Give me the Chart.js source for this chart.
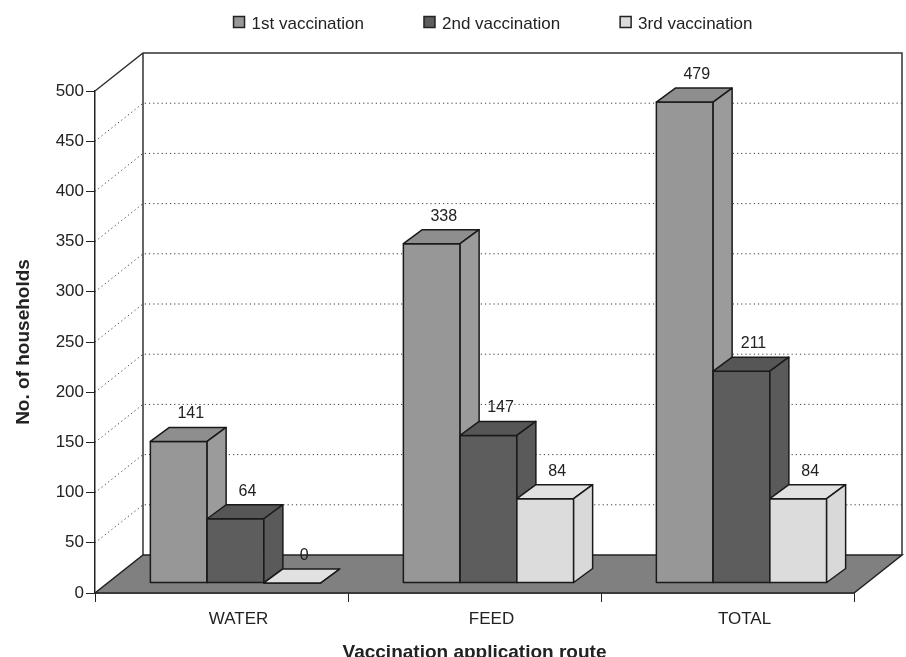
<!DOCTYPE html>
<html>
<head>
<meta charset="utf-8">
<script src="https://cdn.jsdelivr.net/npm/chart.js@4.4.0/dist/chart.umd.min.js"></script>
<style>
  html, body { margin: 0; padding: 0; background: #fff; }
  #wrap { width: 906px; height: 657px; }
</style>
</head>
<body>
<div id="wrap"><canvas id="chart"></canvas></div>
<script>
// data
const routes = ['WATER', 'FEED', 'TOTAL'];
const seriesNames = ['1st vaccination', '2nd vaccination', '3rd vaccination'];
const firstVacc = [141, 338, 479];
const secondVacc = [64, 147, 211];
const thirdVacc = [0, 84, 84];
const yMax = 500;
const yStep = 50;

const FONT = '"Liberation Sans", Arial, sans-serif';
Chart.defaults.font.family = FONT;

// shades for front / top / side faces of each series
const faces = [
    { front: '#979797', top: '#8e8e8e', side: '#9b9b9b' },
    { front: '#5d5d5d', top: '#565656', side: '#5a5a5a' },
    { front: '#dcdcdc', top: '#e1e1e1', side: '#d9d9d9' }
];

// oblique depth offsets (px)
const wallDX = 48, wallDY = -38;   // back wall
const barSX = 14, barSY = -10;     // bars sit a bit behind the front plane
const barDX = 19, barDY = -14;     // bar depth

const fake3d = {
    id: 'fake3d',
    beforeDatasetsDraw(chart) {
        const { ctx, chartArea: a, scales: { y } } = chart;
        ctx.save();
        // dotted grid on left and back walls
        ctx.strokeStyle = '#3a3a3a';
        ctx.lineWidth = 1;
        ctx.setLineDash([1.2, 3]);
        y.ticks.forEach(t => {
            if (t.value === y.min || t.value === y.max) return;
            const py = y.getPixelForValue(t.value);
            ctx.beginPath();
            ctx.moveTo(a.left, py);
            ctx.lineTo(a.left + wallDX, py + wallDY);
            ctx.lineTo(a.right + wallDX, py + wallDY);
            ctx.stroke();
        });
        ctx.setLineDash([]);
        // wall outline
        ctx.strokeStyle = '#333';
        ctx.lineWidth = 1.5;
        ctx.beginPath();
        ctx.moveTo(a.left, a.top);
        ctx.lineTo(a.left + wallDX, a.top + wallDY);
        ctx.lineTo(a.right + wallDX, a.top + wallDY);
        ctx.lineTo(a.right + wallDX, a.bottom + wallDY);
        ctx.moveTo(a.left + wallDX, a.top + wallDY);
        ctx.lineTo(a.left + wallDX, a.bottom + wallDY);
        ctx.stroke();
        // floor
        ctx.fillStyle = '#808080';
        ctx.strokeStyle = '#222';
        ctx.beginPath();
        ctx.moveTo(a.left, a.bottom);
        ctx.lineTo(a.right, a.bottom);
        ctx.lineTo(a.right + wallDX, a.bottom + wallDY);
        ctx.lineTo(a.left + wallDX, a.bottom + wallDY);
        ctx.closePath();
        ctx.fill();
        ctx.stroke();
        ctx.restore();
    },
    beforeDatasetDraw() {
        return false; // boxes are drawn below instead
    },
    afterDatasetsDraw(chart) {
        const { ctx } = chart;
        const metas = chart.data.datasets.map((d, i) => chart.getDatasetMeta(i));
        ctx.save();
        ctx.lineWidth = 1.5;
        ctx.lineJoin = 'round';
        ctx.strokeStyle = '#1a1a1a';
        const poly = (pts, fill) => {
            ctx.beginPath();
            ctx.moveTo(pts[0][0], pts[0][1]);
            for (let k = 1; k < pts.length; k++) ctx.lineTo(pts[k][0], pts[k][1]);
            ctx.closePath();
            ctx.fillStyle = fill;
            ctx.fill();
            ctx.stroke();
        };
        const labels = [];
        routes.forEach((r, ci) => {
            metas.forEach((meta, di) => {
                const bar = meta.data[ci];
                const c = faces[di];
                const x0 = bar.x - bar.width / 2 + barSX;
                const x1 = bar.x + bar.width / 2 + barSX;
                const yt = bar.y + barSY;
                const yb = bar.base + barSY;
                poly([[x0, yt], [x1, yt], [x1, yb], [x0, yb]], c.front);
                poly([[x0, yt], [x1, yt], [x1 + barDX, yt + barDY], [x0 + barDX, yt + barDY]], c.top);
                poly([[x1, yt], [x1 + barDX, yt + barDY], [x1 + barDX, yb + barDY], [x1, yb]], c.side);
                labels.push({ x: (x0 + x1) / 2 + 12, y: yt + barDY - 9, v: chart.data.datasets[di].data[ci] });
            });
        });
        ctx.fillStyle = '#222';
        ctx.font = '16px ' + FONT;
        ctx.textAlign = 'center';
        ctx.textBaseline = 'alphabetic';
        labels.forEach(l => ctx.fillText(String(l.v), l.x, l.y));
        ctx.restore();
    },
    afterDraw(chart) {
        // legend row at the top
        const { ctx } = chart;
        ctx.save();
        ctx.font = '17px ' + FONT;
        const widths = seriesNames.map(s => ctx.measureText(s).width);
        const box = 11, gapText = 18, gapItem = 60;
        const total = widths.reduce((s, w) => s + w, 0) + seriesNames.length * gapText + (seriesNames.length - 1) * gapItem;
        let x = 493 - total / 2;
        const cy = 23;
        ctx.textBaseline = 'middle';
        ctx.textAlign = 'left';
        seriesNames.forEach((s, i) => {
            ctx.fillStyle = faces[i].front;
            ctx.strokeStyle = '#222';
            ctx.lineWidth = 1.5;
            ctx.fillRect(x, cy - box / 2 - 1, box, box);
            ctx.strokeRect(x, cy - box / 2 - 1, box, box);
            ctx.fillStyle = '#222';
            ctx.fillText(s, x + gapText, cy + 1.5);
            x += gapText + widths[i] + gapItem;
        });
        ctx.restore();
    }
};

new Chart(document.getElementById('chart'), {
    type: 'bar',
    data: {
        labels: routes,
        datasets: [
            { label: seriesNames[0], data: firstVacc, backgroundColor: faces[0].front },
            { label: seriesNames[1], data: secondVacc, backgroundColor: faces[1].front },
            { label: seriesNames[2], data: thirdVacc, backgroundColor: faces[2].front }
        ]
    },
    options: {
        responsive: true,
        maintainAspectRatio: false,
        animation: false,
        layout: {
            padding: { top: 91, right: 52, bottom: 0, left: 0 }
        },
        datasets: {
            bar: { barPercentage: 1, categoryPercentage: 0.673 }
        },
        plugins: {
            legend: { display: false },
            tooltip: { enabled: false }
        },
        scales: {
            x: {
                grid: { drawOnChartArea: false, tickLength: 9, color: '#222', offset: true },
                border: { display: true, color: '#222', width: 1.5 },
                ticks: { font: { size: 17 }, color: '#222', labelOffset: 17, padding: 7 },
                title: {
                    display: true,
                    text: 'Vaccination application route',
                    color: '#222',
                    font: { size: 19, weight: 'bold', lineHeight: 1 },
                    padding: { top: 0, bottom: -5.5 }
                },
                afterFit(scale) { scale.height = 64; }
            },
            y: {
                min: 0,
                max: yMax,
                ticks: { stepSize: yStep, font: { size: 17 }, color: '#222', padding: 2 },
                grid: { drawOnChartArea: false, tickLength: 9, color: '#222' },
                border: { display: true, color: '#222', width: 1.5 },
                title: {
                    display: true,
                    text: 'No. of households',
                    color: '#222',
                    font: { size: 19, weight: 'bold', lineHeight: 1 },
                    padding: { top: 14.5, bottom: 0 }
                },
                afterFit(scale) { scale.width = 95; }
            }
        }
    },
    plugins: [fake3d]
});
</script>
</body>
</html>
